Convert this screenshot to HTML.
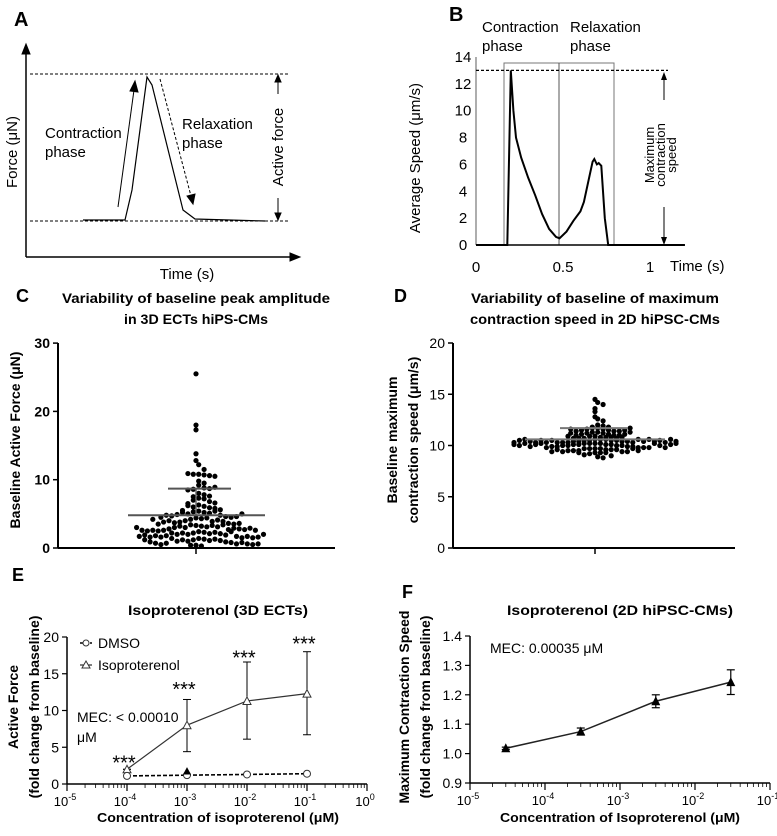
<!DOCTYPE html>
<html><head><meta charset="utf-8"><style>
html,body{margin:0;padding:0;background:#fff}
svg{display:block;font-family:"Liberation Sans Narrow","Liberation Sans",sans-serif}
.b{font-weight:bold}
</style></head><body>
<svg id="fig" width="777" height="836" viewBox="0 0 777 836" xmlns="http://www.w3.org/2000/svg">
<g stroke="#000" fill="none">
<text x="14" y="26" font-size="20" class="b" fill="#000" stroke="none">A</text>
<line x1="26" y1="257" x2="26" y2="52" stroke-width="1.5"/>
<polygon points="22,54 26,44 30,54" fill="#000"/>
<line x1="26" y1="257" x2="292" y2="257" stroke-width="1.5"/>
<polygon points="290,253 300,257 290,261" fill="#000"/>
<line x1="30" y1="74" x2="290" y2="74" stroke-dasharray="3,2"/>
<line x1="30" y1="221" x2="288" y2="221" stroke-dasharray="3,2"/>
<path d="M83,220 L125,220 L132,190 L147,77 L152,85 L183,210 L195,219 L265,221" stroke-width="1.2"/>
<line x1="118" y1="207" x2="134" y2="90"/>
<polygon points="130,91 135,81 138,92" fill="#000"/>
<line x1="160" y1="79" x2="191" y2="196" stroke-dasharray="3,2"/>
<polygon points="187,196 193,204 195,194" fill="#000"/>
<line x1="278" y1="94" x2="278" y2="80"/>
<polygon points="275,82 278,75 281,82" fill="#000"/>
<line x1="278" y1="198" x2="278" y2="214"/>
<polygon points="275,213 278,220 281,213" fill="#000"/>
<g fill="#000" stroke="none" font-size="15">
<text x="283" y="147" transform="rotate(-90 283 147)" text-anchor="middle">Active force</text>
<text x="45" y="138">Contraction</text>
<text x="45" y="157">phase</text>
<text x="182" y="129">Relaxation</text>
<text x="182" y="148">phase</text>
<text x="17" y="152" transform="rotate(-90 17 152)" text-anchor="middle">Force (μN)</text>
<text x="187" y="279" text-anchor="middle">Time (s)</text>
</g>
</g>
<g fill="#000" font-size="15">
<text x="449" y="21" font-size="20" class="b">B</text>
<text x="482" y="32">Contraction</text>
<text x="482" y="51">phase</text>
<text x="570" y="32">Relaxation</text>
<text x="570" y="51">phase</text>
<text x="670" y="271">Time (s)</text>
<text x="420" y="158" transform="rotate(-90 420 158)" text-anchor="middle">Average Speed (μm/s)</text>
</g>
<g id="dyn"></g>
</svg>
<script>
const NS='http://www.w3.org/2000/svg';
const root=document.getElementById('dyn');
function mk(tag,attrs,txt){const e=document.createElementNS(NS,tag);for(const k in attrs)e.setAttribute(k,attrs[k]);if(txt!==undefined)e.textContent=txt;root.appendChild(e);return e;}
function L(x1,y1,x2,y2,name,extra){const e=mk('line',Object.assign({x1,y1,x2,y2,stroke:'#000','stroke-width':1.2},extra||{}));


return e;}
function T(x,y,s,name,extra){const e=mk('text',Object.assign({x,y,fill:'#000','font-size':13},extra||{}),s);


return e;}

const bTime=[0,0.17,0.18,0.2,0.215,0.23,0.26,0.3,0.34,0.38,0.42,0.46,0.48,0.52,0.56,0.6,0.62,0.65,0.67,0.68,0.695,0.705,0.72,0.74,0.76,1.2];
const bSpeed=[0,0,0,13,10,8,6.5,5,3.7,2.3,1.2,0.6,0.5,1,1.8,2.5,3.2,5,6.2,6.4,6,6.1,5.9,2,0,0];
const bYTicks=[0,2,4,6,8,10,12,14];
const bXTicks=[0,0.5,1];
const bXTickLabels=['0','0.5','1'];
const cForce=[25.5,18,17.3,13.8,12.8,12.2,11.5,10.8,10.7,10.8,10.6,10.9,10.5,9.8,9.5,9.2,8.8,8.6,8.7,8.5,8.9,8.0,7.8,7.5,7.3,7.6,7.2,7.0,6.8,6.5,6.3,6.6,6.1,6.0,5.9,6.2,5.8,5.5,5.4,5.2,5.3,5.1,5.0,5.6,5.4,5.2,4.8,4.9,4.6,4.7,4.5,4.4,4.8,4.6,4.5,4.3,4.2,4.4,4.0,3.9,3.8,4.1,3.7,3.9,4.0,3.6,3.8,3.5,3.3,3.2,3.4,3.1,3.0,3.3,3.2,3.1,3.0,3.4,3.5,2.8,2.7,2.6,2.9,2.5,2.8,2.6,2.7,2.5,2.4,2.9,2.6,2.3,2.2,2.1,2.0,2.3,2.2,2.1,2.0,1.9,2.2,2.4,1.8,1.7,1.6,1.5,1.8,1.7,1.6,1.5,1.4,1.9,1.6,1.7,1.3,1.2,1.1,1.0,1.3,1.2,1.1,1.0,0.9,1.4,0.8,0.7,0.6,0.5,0.8,0.7,0.6,0.9,0.4,0.3,0.5,0.4,2.6,3.6,4.2,1.2,2.0,3.0,5.0,0.6];
const cMean=4.8, cSD=8.7;
const cYTicks=[0,10,20,30];
const dSpeed=[14.5,14.2,14.0,13.6,13.3,12.8,12.6,12.4,12.0,11.9,11.8,11.8,11.7,11.6,11.7,11.5,11.6,11.4,11.5,11.3,11.4,11.2,11.3,11.1,11.2,11.0,11.1,11.0,10.9,10.8,10.9,10.8,10.7,10.8,10.7,10.6,10.7,10.6,10.5,10.6,10.5,10.5,10.4,10.5,10.4,10.4,10.3,10.4,10.3,10.3,10.2,10.3,10.2,10.2,10.1,10.2,10.1,10.1,10.0,10.1,10.0,10.0,9.9,10.0,9.9,9.9,9.8,9.9,9.8,9.8,9.7,9.8,9.7,9.7,9.6,9.7,9.6,9.5,9.6,9.5,9.4,9.5,9.4,9.3,9.4,9.3,9.2,9.3,9.1,9.0,8.9,8.8,10.6,10.5,10.4,10.3,10.2,10.6,10.5,10.4,10.3,10.2,10.1,10.7,10.8,10.9,11.0,11.1,11.2,10.0,9.9,9.8,9.7,9.6,10.5,10.4,10.3,10.2,10.1,10.0,11.3,11.4,11.5,11.6,11.7,9.5,9.4,9.3,10.6,10.6,10.5,10.4,10.3,10.2,10.1];
const dMean=10.6, dSD=11.7;
const dYTicks=[0,5,10,15,20];
const eConc=[1e-4,1e-3,1e-2,1e-1];
const eIso=[2.0,8.0,11.3,12.3];
const eIsoLo=[2.0,4.4,6.1,6.7];
const eIsoHi=[2.0,11.5,16.6,18.0];
const eDmso=[1.1,1.2,1.3,1.4];
const eStarY=[3.3,13.3,17.6,19.5];
const eYTicks=[0,5,10,15,20];
const eXExp=[-5,-4,-3,-2,-1,0];
const fConc=[3e-5,3e-4,3e-3,3e-2];
const fVal=[1.018,1.075,1.178,1.243];
const fErr=[0.004,0.012,0.022,0.042];
const fYTicks=[0.9,1.0,1.1,1.2,1.3,1.4];
const fYTickLabels=['0.9','1.0','1.1','1.2','1.3','1.4'];
const fXExp=[-5,-4,-3,-2,-1];

(function(){
 const bx=t=>476+t*174, by=v=>245-v*13.43;
 const r=mk('rect',{x:504,y:63,width:110,height:182,fill:'none',stroke:'#777','stroke-width':1});
 
 
 L(559,63,559,245,'phase-divider',{stroke:'#555','stroke-width':1});
 L(476,245,476,57,'b-y-axis',{stroke:'#777'});
 L(476,245,685,245,'b-baseline',{stroke:'#000','stroke-width':1.5});
 L(476,by(13),668,by(13),'b-max-dashed-line',{'stroke-dasharray':'3,2'});
 const p=bTime.map((t,i)=>(i?'L':'M')+bx(t).toFixed(1)+','+by(bSpeed[i]).toFixed(1)).join(' ');
 const path=mk('path',{d:p,fill:'none',stroke:'#000','stroke-width':2});
 
 
 bYTicks.forEach(v=>T(463,by(v)+5,String(v),'b-y-tick-label',{'font-size':15,'text-anchor':'middle'}));
 bXTicks.forEach((v,i)=>T(bx(v),272,bXTickLabels[i],'b-x-tick-label',{'font-size':15,'text-anchor':'middle'}));
 L(664,100,664,78,'max-speed-arrow-up',{'stroke-width':1});
 const a1=mk('polygon',{points:'661,80 664,72 667,80',fill:'#000'});
 
 
 L(664,207,664,238,'max-speed-arrow-down',{'stroke-width':1});
 const a2=mk('polygon',{points:'661,237 664,245 667,237',fill:'#000'});
 
 
 const lines=['Maximum','contraction','speed'];
 lines.forEach((s,i)=>{T(654+i*11,155,s,'max-speed-label',{'font-size':13,'text-anchor':'middle',transform:`rotate(-90 ${654+i*11} 155)`});});
})();

function swarm(vals,cx,yfun,bin,name){
 const rows={};
 vals.forEach(v=>{const k=Math.round(v/bin);(rows[k]=rows[k]||[]).push(v);});
 for(const k in rows){rows[k].forEach((v,i)=>{const off=(i%2?1:-1)*Math.ceil(i/2)*5.4+(rows[k].length%2?0:2.7);
  const c=mk('circle',{cx:cx+off,cy:yfun(v),r:2.6,fill:'#000'});
  
  });}
}
(function(){
 const y=v=>548-v*6.83;
 T(16,302,'C','panel-label-c',{'font-size':18,'font-weight':'bold'});
 T(196,303,'Variability of baseline peak amplitude','c-title-line1',{'font-size':14,'font-weight':'bold','text-anchor':'middle',textLength:268,lengthAdjust:'spacingAndGlyphs'});
 T(196,324,'in 3D ECTs hiPS-CMs','c-title-line2',{'font-size':14,'font-weight':'bold','text-anchor':'middle',textLength:144,lengthAdjust:'spacingAndGlyphs'});
 L(58,343,58,548,'c-y-axis',{'stroke-width':2});
 L(58,548,335,548,'c-x-axis',{'stroke-width':2});
 L(196,548,196,554,'c-x-tick',{'stroke-width':1.5});
 cYTicks.forEach(v=>{L(53,y(v),58,y(v),'c-y-tick',{'stroke-width':1.5});T(50,y(v)+5,String(v),'c-y-tick-label',{'font-size':14,'font-weight':'bold','text-anchor':'end'});});
 T(20,440,'Baseline Active Force (μN)','c-y-axis-title',{'font-size':14,'font-weight':'bold','text-anchor':'middle',transform:'rotate(-90 20 440)'});
 swarm(cForce,196,y,1.0,'c-data-point');
 L(196,y(cMean),196,y(cSD),'c-sd-bar',{stroke:'#666','stroke-width':1.5});
 L(128,y(cMean),265,y(cMean),'c-mean-line',{stroke:'#555','stroke-width':2});
 L(168,y(cSD),231,y(cSD),'c-sd-line',{stroke:'#555','stroke-width':2});
})();
(function(){
 const y=v=>548-v*10.25;
 T(394,302,'D','panel-label-d',{'font-size':18,'font-weight':'bold'});
 T(595,303,'Variability of baseline of maximum','d-title-line1',{'font-size':14,'font-weight':'bold','text-anchor':'middle',textLength:248,lengthAdjust:'spacingAndGlyphs'});
 T(595,324,'contraction speed in 2D hiPSC-CMs','d-title-line2',{'font-size':14,'font-weight':'bold','text-anchor':'middle',textLength:250,lengthAdjust:'spacingAndGlyphs'});
 L(453,343,453,548,'d-y-axis',{'stroke-width':2});
 L(453,548,735,548,'d-x-axis',{'stroke-width':2});
 L(595,548,595,554,'d-x-tick',{'stroke-width':1.5});
 dYTicks.forEach(v=>{L(448,y(v),453,y(v),'d-y-tick',{'stroke-width':1.5});T(445,y(v)+5,String(v),'d-y-tick-label',{'font-size':14,'text-anchor':'end'});});
 T(397,440,'Baseline maximum','d-y-axis-title-1',{'font-size':14,'font-weight':'bold','text-anchor':'middle',transform:'rotate(-90 397 440)'});
 T(418,440,'contraction speed (μm/s)','d-y-axis-title-2',{'font-size':14,'font-weight':'bold','text-anchor':'middle',transform:'rotate(-90 418 440)'});
 swarm(dSpeed,595,y,0.4,'d-data-point');
 L(525,y(dMean),665,y(dMean),'d-mean-line',{stroke:'#777','stroke-width':2});
 L(560,y(dSD),628,y(dSD),'d-sd-line',{stroke:'#777','stroke-width':2});
})();
(function(){
 const x=c=>67+(Math.log10(c)+5)*60, y=v=>784-v*7.35;
 T(12,581,'E','panel-label-e',{'font-size':18,'font-weight':'bold'});
 T(218,615,'Isoproterenol (3D ECTs)','e-title',{'font-size':14,'font-weight':'bold','text-anchor':'middle',textLength:180,lengthAdjust:'spacingAndGlyphs'});
 L(67,637,67,784,'e-y-axis',{'stroke-width':1.5});
 L(67,784,367,784,'e-x-axis',{'stroke-width':1.5});
 eYTicks.forEach(v=>{L(62,y(v),67,y(v),'e-y-tick');T(59,y(v)+5,String(v),'e-y-tick-label',{'font-size':14,'text-anchor':'end'});});
 eXExp.forEach((e,i)=>{const xx=x(Math.pow(10,e));L(xx,784,xx,791,'e-x-tick');
  if(i<eXExp.length-1)for(let m=2;m<10;m++){const xm=x(m*Math.pow(10,e));L(xm,784,xm,788,'e-x-minor-tick',{'stroke-width':0.8});}
  const t=T(xx-2,806,'10','e-x-tick-label',{'font-size':13,'text-anchor':'middle'});
  const s=document.createElementNS(NS,'tspan');s.setAttribute('dy','-6');s.setAttribute('font-size','9');s.textContent=String(e);t.appendChild(s);});
 T(18,707,'Active Force','e-y-axis-title-1',{'font-size':14,'font-weight':'bold','text-anchor':'middle',transform:'rotate(-90 18 707)'});
 T(39,707,'(fold change from baseline)','e-y-axis-title-2',{'font-size':14,'font-weight':'bold','text-anchor':'middle',transform:'rotate(-90 39 707)'});
 T(218,822,'Concentration of isoproterenol (μM)','e-x-axis-title',{'font-size':13,'font-weight':'bold','text-anchor':'middle',textLength:242,lengthAdjust:'spacingAndGlyphs'});
 const dp=eConc.map((c,i)=>(i?'L':'M')+x(c)+','+y(eDmso[i])).join(' ');
 const dl=mk('path',{d:dp,fill:'none',stroke:'#000','stroke-width':1.6,'stroke-dasharray':'4,2'});
 
 
 const ip=eConc.map((c,i)=>(i?'L':'M')+x(c)+','+y(eIso[i])).join(' ');
 const il=mk('path',{d:ip,fill:'none',stroke:'#333','stroke-width':1.2});
 
 
 eConc.forEach((c,i)=>{const xx=x(c);
  L(xx,y(eIsoLo[i]),xx,y(eIsoHi[i]),'iso-error-bar',{'stroke-width':1});
  L(xx-4,y(eIsoHi[i]),xx+4,y(eIsoHi[i]),'iso-error-cap',{'stroke-width':1});
  L(xx-4,y(eIsoLo[i]),xx+4,y(eIsoLo[i]),'iso-error-cap',{'stroke-width':1});
  const tr=mk('polygon',{points:`${xx-4},${y(eIso[i])+3.5} ${xx},${y(eIso[i])-4} ${xx+4},${y(eIso[i])+3.5}`,fill:'#fff',stroke:'#333'});
  
  
  const ci=mk('circle',{cx:xx,cy:y(eDmso[i]),r:3.5,fill:'#fff',stroke:'#333'});
  
  
  T(xx-3,y(eStarY[i])+10,'***','significance-stars',{'font-size':20,'text-anchor':'middle'});});
 const ft=mk('polygon',{points:`${x(1e-3)-4},${y(1.3)} ${x(1e-3)},${y(2.3)} ${x(1e-3)+4},${y(1.3)}`,fill:'#000'});
 
 
 L(80,643,92,643,'legend-dmso-line',{'stroke-dasharray':'3,2','stroke-width':1.5});
 const lc=mk('circle',{cx:86,cy:643,r:3,fill:'#fff',stroke:'#333'});
 
 
 T(98,648,'DMSO','legend-dmso-label',{'font-size':14});
 L(80,665,92,665,'legend-iso-line',{'stroke-width':1});
 const lt=mk('polygon',{points:'82,668 86,661 90,668',fill:'#fff',stroke:'#333'});
 
 
 T(98,670,'Isoproterenol','legend-iso-label',{'font-size':14});
 T(77,722,'MEC: < 0.00010','e-mec-label',{'font-size':14});
 T(77,742,'μM','e-mec-unit',{'font-size':14});
})();
(function(){
 const x=c=>470+(Math.log10(c)+5)*75, y=v=>783-(v-0.9)*294;
 T(402,598,'F','panel-label-f',{'font-size':18,'font-weight':'bold'});
 T(620,615,'Isoproterenol (2D hiPSC-CMs)','f-title',{'font-size':14,'font-weight':'bold','text-anchor':'middle',textLength:226,lengthAdjust:'spacingAndGlyphs'});
 L(470,636,470,783,'f-y-axis',{'stroke-width':1.5});
 L(470,783,770,783,'f-x-axis',{'stroke-width':1.5});
 fYTicks.forEach((v,i)=>{L(465,y(v),470,y(v),'f-y-tick');T(462,y(v)+5,fYTickLabels[i],'f-y-tick-label',{'font-size':14,'text-anchor':'end'});});
 fXExp.forEach((e,i)=>{const xx=x(Math.pow(10,e));L(xx,783,xx,790,'f-x-tick');
  if(i<fXExp.length-1)for(let m=2;m<10;m++){const xm=x(m*Math.pow(10,e));L(xm,783,xm,787,'f-x-minor-tick',{'stroke-width':0.8});}
  const t=T(xx-2,805,'10','f-x-tick-label',{'font-size':13,'text-anchor':'middle'});
  const s=document.createElementNS(NS,'tspan');s.setAttribute('dy','-6');s.setAttribute('font-size','9');s.textContent=String(e);t.appendChild(s);});
 T(409,707,'Maximum Contraction Speed','f-y-axis-title-1',{'font-size':14,'font-weight':'bold','text-anchor':'middle',transform:'rotate(-90 409 707)'});
 T(430,707,'(fold change from baseline)','f-y-axis-title-2',{'font-size':14,'font-weight':'bold','text-anchor':'middle',transform:'rotate(-90 430 707)'});
 T(620,822,'Concentration of Isoproterenol (μM)','f-x-axis-title',{'font-size':13,'font-weight':'bold','text-anchor':'middle',textLength:240,lengthAdjust:'spacingAndGlyphs'});
 const p=fConc.map((c,i)=>(i?'L':'M')+x(c)+','+y(fVal[i])).join(' ');
 const pl=mk('path',{d:p,fill:'none',stroke:'#222','stroke-width':1.5});
 
 
 fConc.forEach((c,i)=>{const xx=x(c);
  L(xx,y(fVal[i]-fErr[i]),xx,y(fVal[i]+fErr[i]),'f-error-bar',{'stroke-width':1.2});
  L(xx-4,y(fVal[i]+fErr[i]),xx+4,y(fVal[i]+fErr[i]),'f-error-cap',{'stroke-width':1.2});
  L(xx-4,y(fVal[i]-fErr[i]),xx+4,y(fVal[i]-fErr[i]),'f-error-cap',{'stroke-width':1.2});
  const tr=mk('polygon',{points:`${xx-4.5},${y(fVal[i])+4} ${xx},${y(fVal[i])-5} ${xx+4.5},${y(fVal[i])+4}`,fill:'#000'});
  
  });
 T(490,653,'MEC: 0.00035 μM','f-mec-label',{'font-size':14});
})();
</script>
</body></html>
